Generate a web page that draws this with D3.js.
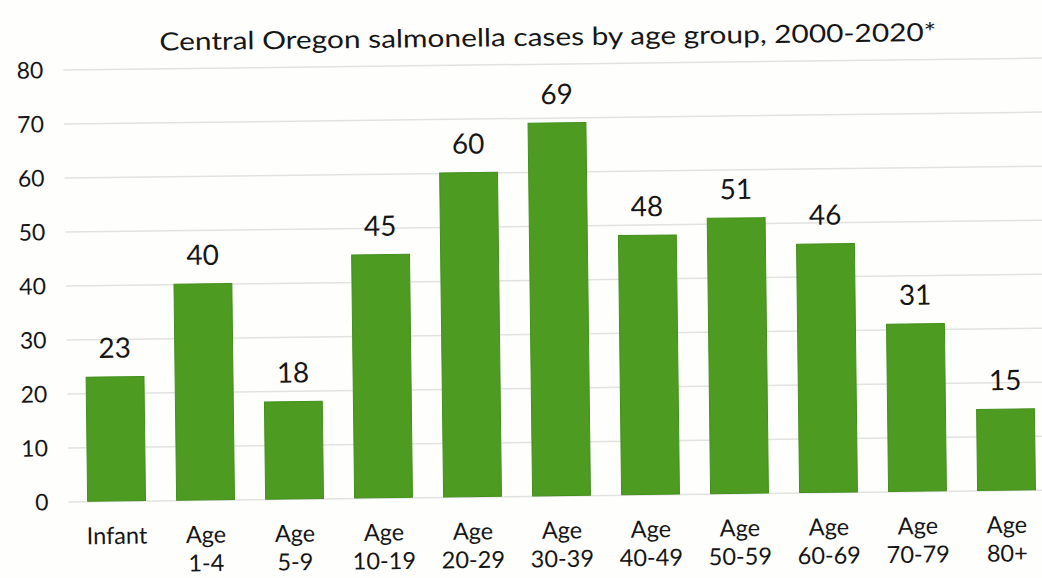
<!DOCTYPE html>
<html>
<head>
<meta charset="utf-8">
<script src="https://cdn.jsdelivr.net/npm/d3@7"></script>
<style>
  html, body { margin: 0; padding: 0; background: #fefefd; }
  svg { display: block; }
  text { font-family: Lato, "Open Sans", sans-serif; fill: #161616; }
</style>
</head>
<body>
<svg id="chart" width="1042" height="578"></svg>
<script>
// Salmonella case counts by age group, Central Oregon 2000-2020
const categories = ["Infant", "Age 1-4", "Age 5-9", "Age 10-19", "Age 20-29", "Age 30-39",
                    "Age 40-49", "Age 50-59", "Age 60-69", "Age 70-79", "Age 80+"];
const cases = [23, 40, 18, 45, 60, 69, 48, 51, 46, 31, 15];
const yTicks = [0, 10, 20, 30, 40, 50, 60, 70, 80];
const titleText = "Central Oregon salmonella cases by age group, 2000-2020*";

const W = 1042, H = 578;
const svg = d3.select("#chart");

svg.append("rect").attr("width", W).attr("height", H).attr("fill", "#fefefd");

// the printed page sits at a slight angle
const root = svg.append("g").attr("transform", "rotate(-0.7, 521, 289)");

const x = d3.scaleBand()
  .domain(categories)
  .range([69.5, 1048.5])
  .paddingInner(0.35)
  .paddingOuter(0.175);

const y = d3.scaleLinear().domain([0, 80]).range([496, 64]);

// horizontal gridlines
root.append("g")
  .attr("transform", "translate(66,0)")
  .call(d3.axisLeft(y).tickValues(yTicks).tickSize(-1000).tickFormat(""))
  .call(g => g.select(".domain").remove())
  .call(g => g.selectAll(".tick line")
    .attr("stroke", "#e2e2e2")
    .attr("stroke-width", 1.5));

// y-axis labels
root.append("g")
  .attr("transform", "translate(46,0)")
  .call(d3.axisLeft(y).tickValues(yTicks).tickSize(0).tickPadding(0))
  .call(g => g.select(".domain").remove())
  .call(g => g.selectAll(".tick text")
    .attr("font-size", 23)
    .attr("fill", "#161616")
    .attr("dy", "0.35em"));

// bars
root.append("g")
  .selectAll("rect")
  .data(cases)
  .join("rect")
  .attr("x", (d, i) => x(categories[i]))
  .attr("width", x.bandwidth())
  .attr("y", d => y(d))
  .attr("height", d => y(0) - y(d))
  .attr("fill", "#4e9b22")
  .attr("stroke", "#438f1c")
  .attr("stroke-width", 1);

// value labels
root.append("g")
  .selectAll("text")
  .data(cases)
  .join("text")
  .attr("x", (d, i) => x(categories[i]) + x.bandwidth() / 2)
  .attr("y", d => y(d) - 19)
  .attr("text-anchor", "middle")
  .attr("font-size", 28)
  .text(d => d);

// category labels, split into two lines after "Age"
const xAxis = root.append("g")
  .attr("transform", "translate(0,496)")
  .call(d3.axisBottom(x).tickSize(0).tickPadding(0))
  .call(g => g.select(".domain").remove());

xAxis.selectAll(".tick text").each(function(d) {
  const t = d3.select(this);
  const parts = d.startsWith("Age ") ? ["Age", d.slice(4)] : [d];
  t.text(null)
    .attr("y", 0)
    .attr("dy", null)
    .attr("font-size", 23.5)
    .attr("fill", "#161616");
  parts.forEach((p, k) => {
    t.append("tspan")
      .attr("x", 0)
      .attr("y", 43 + k * 28.5)
      .text(p);
  });
});

// title
root.append("text")
  .attr("x", 551)
  .attr("y", 46)
  .attr("text-anchor", "middle")
  .attr("font-size", 25)
  .attr("textLength", 777)
  .attr("lengthAdjust", "spacingAndGlyphs")
  .text(titleText);
</script>
</body>
</html>
